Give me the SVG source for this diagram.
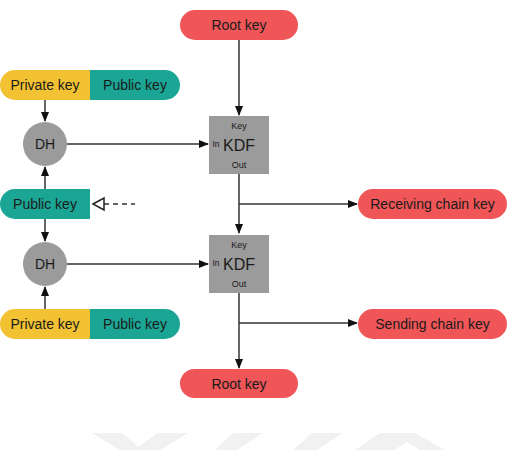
<svg xmlns="http://www.w3.org/2000/svg" width="515" height="450" viewBox="0 0 515 450">
<style>
text{font-family:"Liberation Sans",Arial,sans-serif;fill:#1a1a1a;text-anchor:middle;dominant-baseline:central}
.t{font-size:14px}
.red{fill:#F05557}
.yel{fill:#F3C232}
.teal{fill:#1BA594}
.gray{fill:#9B9B9B}
.ln{stroke:#333;stroke-width:1.5;fill:none}
.wm{fill:#F1F1F1}
</style>
<defs>
<marker id="ah" markerWidth="10" markerHeight="8" refX="9" refY="4" orient="auto" markerUnits="userSpaceOnUse">
<path d="M0,0 L10,4 L0,8 Z" fill="#111"/>
</marker>
<clipPath id="c1"><rect x="0" y="70" width="180" height="30" rx="15"/></clipPath>
<clipPath id="c2"><rect x="0" y="309" width="180" height="30" rx="15"/></clipPath>
</defs>
<g id="watermark">
<polygon class="wm" points="92,433 122,433 142,450 120,450"/>
<polygon class="wm" points="157,433 188,433 160,450 135,450"/>
<polygon class="wm" points="233,433 263,433 237,450 215,450"/>
<polygon class="wm" points="312,433 342,433 317,450 293,450"/>
<polygon class="wm" points="380,433 415,433 445,450 420,450 407,442 394,450 355,450"/>
</g>
<g id="connectors">
<line class="ln" x1="239" y1="40" x2="239" y2="115" marker-end="url(#ah)"/>
<line class="ln" x1="45" y1="100" x2="45" y2="121" marker-end="url(#ah)"/>
<line class="ln" x1="67" y1="144" x2="208" y2="144" marker-end="url(#ah)"/>
<line class="ln" x1="45" y1="189" x2="45" y2="167" marker-end="url(#ah)"/>
<line class="ln" x1="45" y1="219" x2="45" y2="241" marker-end="url(#ah)"/>
<line class="ln" x1="67" y1="264" x2="208" y2="264" marker-end="url(#ah)"/>
<line class="ln" x1="45" y1="309" x2="45" y2="287" marker-end="url(#ah)"/>
<line class="ln" x1="239" y1="174" x2="239" y2="233" marker-end="url(#ah)"/>
<line class="ln" x1="239" y1="204" x2="357" y2="204" marker-end="url(#ah)"/>
<line class="ln" x1="239" y1="293" x2="239" y2="368" marker-end="url(#ah)"/>
<line class="ln" x1="239" y1="323" x2="357" y2="323" marker-end="url(#ah)"/>
<line x1="104" y1="204" x2="135" y2="204" stroke="#333" stroke-width="1.5" stroke-dasharray="5,4"/>
<polygon points="93,204 104,198 104,210" fill="#fff" stroke="#222" stroke-width="1.5"/>
</g>
<g id="root-key-top">
<rect class="red" x="180" y="10" width="118" height="30" rx="15"/>
<text class="t" x="239" y="25">Root key</text>
</g>
<g id="keypair-top">
<g clip-path="url(#c1)">
<rect class="yel" x="0" y="70" width="90" height="30"/>
<rect class="teal" x="90" y="70" width="90" height="30"/>
</g>
<text class="t" x="45" y="85">Private key</text>
<text class="t" x="135" y="85">Public key</text>
</g>
<g id="dh-top">
<circle class="gray" cx="45" cy="144" r="22"/>
<text class="t" x="45" y="144">DH</text>
</g>
<g id="public-key-mid">
<path class="teal" d="M15,189 H90 V219 H15 A15,15 0 0 1 15,189 Z"/>
<text class="t" x="45" y="204">Public key</text>
</g>
<g id="dh-bottom">
<circle class="gray" cx="45" cy="264" r="22"/>
<text class="t" x="45" y="264">DH</text>
</g>
<g id="keypair-bottom">
<g clip-path="url(#c2)">
<rect class="yel" x="0" y="309" width="90" height="30"/>
<rect class="teal" x="90" y="309" width="90" height="30"/>
</g>
<text class="t" x="45" y="324">Private key</text>
<text class="t" x="135" y="324">Public key</text>
</g>
<g id="kdf-1">
<rect class="gray" x="209" y="116" width="60" height="58"/>
<text x="239" y="126" font-size="9">Key</text>
<text x="239" y="145" font-size="16">KDF</text>
<text x="216" y="144" font-size="8.5">In</text>
<text x="239" y="165" font-size="9">Out</text>
</g>
<g id="kdf-2">
<rect class="gray" x="209" y="235" width="60" height="58"/>
<text x="239" y="245" font-size="9">Key</text>
<text x="239" y="264" font-size="16">KDF</text>
<text x="216" y="263" font-size="8.5">In</text>
<text x="239" y="284" font-size="9">Out</text>
</g>
<g id="receiving-chain-key">
<rect class="red" x="358" y="189" width="149" height="30" rx="15"/>
<text class="t" x="432.5" y="204">Receiving chain key</text>
</g>
<g id="sending-chain-key">
<rect class="red" x="358" y="309" width="149" height="30" rx="15"/>
<text class="t" x="432.5" y="324">Sending chain key</text>
</g>
<g id="root-key-bottom">
<rect class="red" x="180" y="369" width="118" height="29" rx="14.5"/>
<text class="t" x="239" y="383.5">Root key</text>
</g>
</svg>
